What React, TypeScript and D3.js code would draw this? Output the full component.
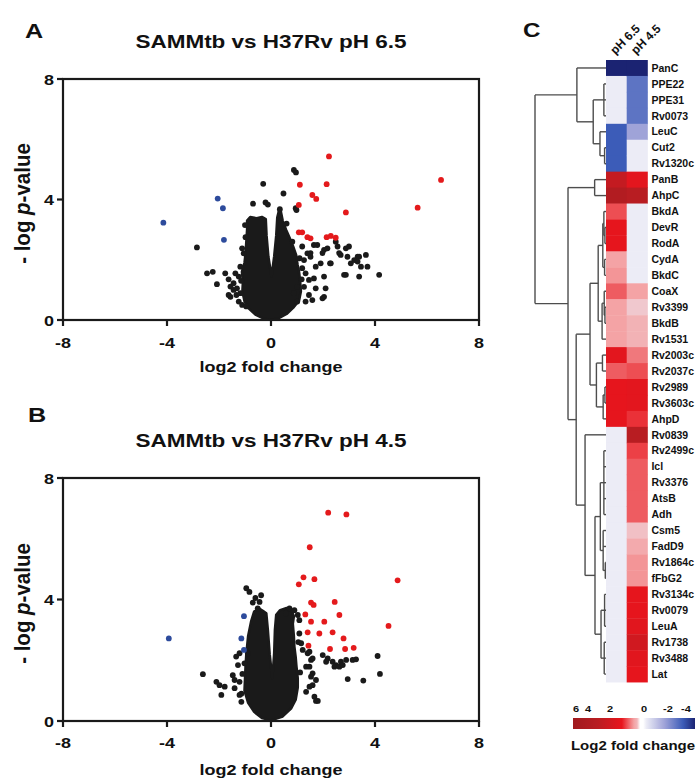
import React from "react";
import * as d3 from "d3";

// ---------------- DATA ----------------
const xTicks = [-8, -4, 0, 4, 8];
const yTicks = [0, 4, 8];

// Panel A (pH 6.5)
const aRed: [number, number][] = [[2.23,5.43],[6.54,4.65],[5.64,3.73],[1.11,4.49],[2.14,4.51],[1.59,4.15],[1.74,4.02],[1.07,3.82],[2.88,3.57],[1.07,2.91],[1.2,2.91],[1.4,2.75],[1.52,2.71],[2.14,2.75],[2.3,2.79],[2.49,2.73]];
const aBlue: [number, number][] = [[-2.05,4.03],[-1.85,3.71],[-4.14,3.23],[-1.81,2.66]];
const aBlack: [number, number][] = [[0.88,4.98],[0.96,4.9],[-0.3,4.52],[0.48,4.2],[-0.69,3.86],[-0.21,3.9],[-0.12,3.83],[0.34,3.68],[0.95,3.71],[0.98,3.65],
  [-2.85,2.41],[-2.46,1.55],[-2.24,1.6],[-2.08,1.19],[-1.76,1.55],[-1.63,1.35],[-1.56,1.11],[-1.44,1.0],[-1.33,0.83],[-1.56,0.77],[-1.63,0.83],[-1.37,1.55],[-1.24,1.44],[-1.11,2.38],[-1.05,2.21],[-1.18,1.77],[-1.24,0.61],[-1.11,0.5],[-1.31,1.05],[-1.18,0.89],[-1.44,1.22],
  [1.78,2.49],[2.04,2.33],[2.17,2.38],[2.56,2.44],[2.68,2.16],[2.88,2.38],[3.0,2.44],[2.94,2.1],[3.33,2.1],[3.2,1.99],[2.81,1.5],[2.04,1.44],[2.1,1.05],[2.04,0.77],[1.72,1.77],[1.65,1.38],[1.72,1.05],[1.4,2.21],[1.52,2.1],[1.27,1.99],[1.2,1.72],[1.33,1.55],[1.46,1.33],[1.27,1.1],[1.46,0.83],[1.59,0.66],[1.33,0.61],[1.65,2.49],[2.3,1.88],[1.91,1.88],[1.98,2.22],[1.98,0.72],[2.49,2.6],[2.62,2.22],[3.07,1.88],[3.39,2.1],[3.65,2.16],[3.33,1.94],[3.46,1.77],[3.71,1.77],[3.39,1.44],[4.16,1.5],[2.88,1.5],[1.2,2.44],[1.52,2.22],[1.01,1.1],[0.88,0.89],[1.01,0.61],[2.27,1.88],
  [0.6,3.2],[0.82,2.6],[1.1,2.05],[1.18,1.35],[-0.98,2.75],[-1.0,3.15],[-1.15,1.3],[-0.95,0.45]];
// dense core outline (log2 FC, -log p)
const aCore: [number, number][] = [[0,0],[-0.3,0.05],[-0.6,0.18],[-0.85,0.38],[-1.02,0.62],[-1.1,0.95],[-1.08,1.3],[-1.12,1.6],[-1.02,1.9],[-0.98,2.2],[-0.95,2.6],[-0.92,3.0],[-0.92,3.3],[-0.8,3.42],[-0.55,3.38],[-0.35,3.42],[-0.2,3.35],
  [-0.17,2.8],[-0.1,2.1],[0.02,1.45],[0.12,2.1],[0.2,2.8],[0.24,3.4],
  [0.3,3.62],[0.38,3.6],[0.45,3.3],[0.58,3.0],[0.72,2.72],[0.85,2.45],[0.97,2.15],[1.02,1.85],[1.08,1.6],[1.12,1.3],[1.15,0.95],[1.08,0.65],[0.85,0.4],[0.6,0.2],[0.3,0.06]];

// Panel B (pH 4.5)
const bRed: [number, number][] = [[2.2,6.86],[2.9,6.8],[1.49,5.72],[1.25,4.73],[1.67,4.67],[1.07,4.5],[4.87,4.63],[1.54,3.9],[1.64,3.82],[2.45,3.92],[1.32,3.51],[2.63,3.49],[1.54,3.27],[2.05,3.27],[4.52,3.13],[1.41,2.92],[1.86,2.88],[2.37,2.92],[2.79,2.72],[1.44,2.48],[2.27,2.37],[2.85,2.37],[3.18,2.41]];
const bBlue: [number, number][] = [[-3.93,2.72],[-1.04,3.45],[-1.14,2.72],[-1.04,2.34]];
const bBlack: [number, number][] = [[-0.95,4.37],[-0.83,4.25],[-0.38,4.14],[-0.44,3.92],[-0.51,3.71],[-2.62,1.54],[-2.1,1.29],[-1.98,1.18],[-1.78,1.13],[-1.91,0.86],[-1.47,1.51],[-1.4,1.35],[-1.27,1.84],[-1.21,2.23],[-1.34,2.12],[-1.4,1.08],[-1.21,0.86],[-1.14,0.63],[-1.21,1.29],[-1.14,0.9],[-0.89,2.23],[-1.02,1.9],
  [0.71,3.71],[0.9,3.65],[0.58,3.54],[1.03,3.49],[1.09,3.32],[1.09,2.88],[1.16,2.56],[1.22,2.34],[1.48,2.28],[1.54,2.01],[1.35,1.79],[1.6,1.57],[1.73,1.35],[1.48,1.13],[1.67,0.8],[1.73,0.66],[1.99,2.17],[2.18,2.06],[2.37,1.95],[2.5,1.84],[2.69,1.95],[2.89,2.01],[3.14,2.01],[3.27,2.03],[2.95,1.38],[3.55,1.33],[4.1,2.14],[4.19,1.55],[1.8,0.66],[1.6,2.06],[1.48,1.79],[1.54,1.46],[1.6,1.18],[1.35,0.96],[1.41,2.23],[2.12,1.95],[2.44,1.79],[2.63,1.79],[2.76,1.84],
  [-0.7,3.9],[-0.6,4.05],[-1.1,1.55],[1.05,2.6],[1.12,1.6]];
const bCore: [number, number][] = [[0,0.02],[-0.35,0.1],[-0.65,0.3],[-0.88,0.6],[-1.02,1.0],[-1.0,1.4],[-0.98,1.8],[-0.95,2.2],[-0.88,2.8],[-0.76,3.3],[-0.65,3.6],[-0.45,3.7],[-0.3,3.62],[-0.18,3.55],
  [-0.12,3.0],[-0.05,2.2],[0.05,1.4],[0.12,2.2],[0.15,3.0],[0.2,3.5],
  [0.35,3.65],[0.6,3.72],[0.8,3.62],[0.88,3.45],[0.84,3.2],[0.88,2.8],[0.9,2.45],[0.95,2.1],[0.98,1.8],[1.03,1.4],[1.03,1.1],[0.95,0.7],[0.78,0.42],[0.45,0.15]];

// Heatmap
const genes = ["PanC","PPE22","PPE31","Rv0073","LeuC","Cut2","Rv1320c","PanB","AhpC","BkdA","DevR","RodA","CydA","BkdC","CoaX","Rv3399","BkdB","Rv1531","Rv2003c","Rv2037c","Rv2989","Rv3603c","AhpD","Rv0839","Rv2499c","Icl","Rv3376","AtsB","Adh","Csm5","FadD9","Rv1864c","fFbG2","Rv3134c","Rv0079","LeuA","Rv1738","Rv3488","Lat"];
const conditions = ["pH 6.5", "pH 4.5"];
const ph65 = [-4,0,0,0,-3,-3,-3,3.5,4.5,1.6,2.1,2.1,1.0,1.1,1.5,1.0,1.0,1.0,2.2,1.5,2.1,2.1,2.1,0,0,0,0,0,0,0,0,0,0,0,0,0,0,0,0];
const ph45 = [-4,-2.5,-2.5,-2.5,-1.5,0,0,2.2,4.0,0,0,0,0,0,1.0,0.5,0.8,0.8,1.3,1.6,2.2,2.2,1.8,4.0,1.7,1.5,1.5,1.5,1.5,0.6,0.9,1.1,1.1,2.1,2.1,2.3,3.0,2.3,2.1];
const legendTicks = [6, 4, 2, 0, -2, -4];

// dendrogram: leaves are row indices, h = merge height
type DNode = { h: number; c: (DNode | number)[] };
const dendro: DNode = { h: 10, c: [
  { h: 4.1, c: [0, { h: 1.8, c: [{ h: 0.3, c: [1, 2, 3] }, { h: 0.85, c: [4, { h: 0.2, c: [5, 6] }] }] }] },
  { h: 5.35, c: [
    { h: 1.6, c: [7, 8] },
    { h: 4.2, c: [
      { h: 2.25, c: [
        { h: 1.1, c: [
          { h: 0.45, c: [{ h: 0.3, c: [9, { h: 0.15, c: [10, 11] }] }, { h: 0.2, c: [12, 13] }] },
          { h: 0.55, c: [{ h: 0.25, c: [14, { h: 0.15, c: [15, 16] }] }, 17] }
        ] },
        { h: 1.35, c: [{ h: 0.5, c: [18, 19] }, { h: 0.4, c: [{ h: 0.15, c: [20, 21] }, 22] }] }
      ] },
      { h: 2.95, c: [23, { h: 1.55, c: [
        { h: 0.8, c: [{ h: 0.3, c: [24, 25, 26, 27, 28] }, { h: 0.4, c: [29, 30, { h: 0.1, c: [31, 32] }] }] },
        { h: 0.7, c: [{ h: 0.2, c: [33, 34, 35] }, { h: 0.25, c: [36, 37, 38] }] }
      ] }] }
    ] }
  ] }
] };

// ---------------- STYLE ----------------
const FONT = "'Liberation Sans', Arial, Helvetica, sans-serif";
const INK = "#1a1a1a";
const RED = "#e41a1c";
const BLUE = "#2d4b9c";

const heatColor = d3.scaleLinear<string>()
  .domain([-4, -3, -1.5, 0, 1, 2, 4, 6])
  .range(["#1b2372", "#3c5cb8", "#9fa3d8", "#ececf6", "#f4a3a5", "#e8151d", "#b81d22", "#a01a1e"])
  .interpolate(d3.interpolateRgb);

function T(props: { x: number; y: number; size: number; sx?: number; anchor?: string; children: any; rotate?: number; sy?: number; weight?: string | number }) {
  const { x, y, size, sx = 1, sy = 1, anchor = "start", rotate = 0, weight = "bold" } = props;
  return (
    <text transform={`translate(${x},${y}) rotate(${rotate}) scale(${sx},${sy})`} fontSize={size} fontFamily={FONT} fontWeight={weight} textAnchor={anchor} fill="#111">
      {props.children}
    </text>
  );
}

const X0 = 63, X1 = 479;

function Volcano(p: { letter: string; letterX: number; letterY: number; title: string; titleY: number; top: number; bottom: number; tickDy: number; titleDy: number; red: [number, number][]; blue: [number, number][]; black: [number, number][]; core: [number, number][] }) {
  const x = d3.scaleLinear().domain([-8, 8]).range([X0, X1]);
  const y = d3.scaleLinear().domain([0, 8]).range([p.bottom, p.top]);
  const coreLine = d3.line<[number, number]>().x(d => x(d[0])).y(d => y(d[1])).curve(d3.curveLinearClosed);
  const cx = (X0 + X1) / 2;
  const cy = (p.top + p.bottom) / 2;
  return (
    <g>
      <T x={p.letterX} y={p.letterY} size={21} sx={1.2}>{p.letter}</T>
      <T x={cx} y={p.titleY} size={18} sx={1.25} anchor="middle">{p.title}</T>
      <path d={coreLine(p.core) || ""} fill={INK} stroke={INK} strokeWidth={2.5} strokeLinejoin="round" />
      {p.black.map((d, i) => <circle key={"k" + i} cx={x(d[0])} cy={y(d[1])} r={2.9} fill={INK} />)}
      {p.red.map((d, i) => <circle key={"r" + i} cx={x(d[0])} cy={y(d[1])} r={2.9} fill={RED} />)}
      {p.blue.map((d, i) => <circle key={"b" + i} cx={x(d[0])} cy={y(d[1])} r={2.9} fill={BLUE} />)}
      <rect x={X0} y={p.top} width={X1 - X0} height={p.bottom - p.top} fill="none" stroke={INK} strokeWidth={2.2} />
      {xTicks.map(v => (
        <g key={"xt" + v}>
          <line x1={x(v)} x2={x(v)} y1={p.bottom} y2={p.bottom + 6} stroke={INK} strokeWidth={2.2} />
          <T x={x(v)} y={p.bottom + p.tickDy} size={15} sx={1.2} anchor="middle">{v}</T>
        </g>
      ))}
      {yTicks.map(v => (
        <g key={"yt" + v}>
          <line x1={X0 - 6} x2={X0} y1={y(v)} y2={y(v)} stroke={INK} strokeWidth={2.2} />
          <T x={X0 - 9} y={y(v) + 5.5} size={15} sx={1.2} anchor="end">{v}</T>
        </g>
      ))}
      <T x={cx} y={p.bottom + p.titleDy} size={15} sx={1.2} anchor="middle">log2 fold change</T>
      <T x={30} y={cy + 4} size={20.5} rotate={-90} sy={1.08} anchor="middle">
        - log <tspan fontStyle="italic">p</tspan>-value
      </T>
    </g>
  );
}

function Heatmap() {
  const left = 606, colW = 20.7, top = 60, rowH = 15.95;
  const rowY = (i: number) => top + (i + 0.5) * rowH;
  const hx = d3.scaleLinear().domain([0, 10]).range([left, 535]);

  const segs: { x1: number; y1: number; x2: number; y2: number }[] = [];
  function walk(n: DNode | number): { y: number; h: number } {
    if (typeof n === "number") return { y: rowY(n), h: 0 };
    const kids = n.c.map(walk);
    kids.forEach(k => segs.push({ x1: hx(k.h), y1: k.y, x2: hx(n.h), y2: k.y }));
    const y1 = kids[0].y, y2 = kids[kids.length - 1].y;
    segs.push({ x1: hx(n.h), y1, x2: hx(n.h), y2 });
    return { y: (y1 + y2) / 2, h: n.h };
  }
  walk(dendro);

  const cols = [ph65, ph45];
  const lgX0 = 573, lgX1 = 695, lgY = 718, lgH = 11;
  const lgPos = d3.scaleLinear().domain([6, 4, 2, 0, -2, -4]).range([576, 588, 610, 644, 668, 686]);
  const barPos = d3.scaleLinear().domain([6, -4]).range([lgX0, lgX1]);
  const stops = d3.range(6, -4.01, -0.25);

  return (
    <g>
      <T x={523} y={37} size={21} sx={1.15}>C</T>
      {segs.map((s, i) => <line key={"d" + i} x1={s.x1} y1={s.y1} x2={s.x2} y2={s.y2} stroke="#4d4d4d" strokeWidth={1.4} />)}
      {cols.map((vals, c) => vals.map((v, r) => (
        <rect key={`c${c}-${r}`} x={left + c * colW} y={top + r * rowH} width={colW + 0.4} height={rowH + 0.4} fill={heatColor(v)} />
      )))}
      {conditions.map((lab, c) => (
        <T key={lab} x={left + (c + 0.5) * colW - 1} y={55} size={12} rotate={-45}>{lab}</T>
      ))}
      {genes.map((g, i) => (
        <text key={g} x={left + 2 * colW + 4} y={rowY(i)} dy="0.35em" fontSize={10.5} fontFamily={FONT} fontWeight="bold" fill="#111">{g}</text>
      ))}
      <defs>
        <linearGradient id="lg" x1="0" x2="1" y1="0" y2="0">
          {stops.map(v => (
            <stop key={v} offset={(barPos(v) - lgX0) / (lgX1 - lgX0)} stopColor={v > 0 && v < 0.6 ? "#ffffff" : heatColor(v)} />
          ))}
        </linearGradient>
      </defs>
      <rect x={lgX0} y={lgY} width={lgX1 - lgX0} height={lgH} fill="url(#lg)" />
      {legendTicks.map(v => (
        <T key={"lt" + v} x={lgPos(v)} y={712} size={8.5} sx={1.3} anchor="middle">{v}</T>
      ))}
      <T x={633} y={750} size={12.5} sx={1.2} anchor="middle">Log2 fold change</T>
    </g>
  );
}

export default function App() {
  return (
    <svg width={700} height={784} style={{ position: "absolute", left: 0, top: 0, background: "#fff" }}>
      <rect width={700} height={784} fill="#fff" />
      <Volcano letter="A" letterX={25} letterY={38} title="SAMMtb vs H37Rv pH 6.5" titleY={48} top={79} bottom={320} tickDy={28} titleDy={52} red={aRed} blue={aBlue} black={aBlack} core={aCore} />
      <Volcano letter="B" letterX={28} letterY={422} title="SAMMtb vs H37Rv pH 4.5" titleY={447} top={478} bottom={721} tickDy={27} titleDy={54} red={bRed} blue={bBlue} black={bBlack} core={bCore} />
      <Heatmap />
    </svg>
  );
}
